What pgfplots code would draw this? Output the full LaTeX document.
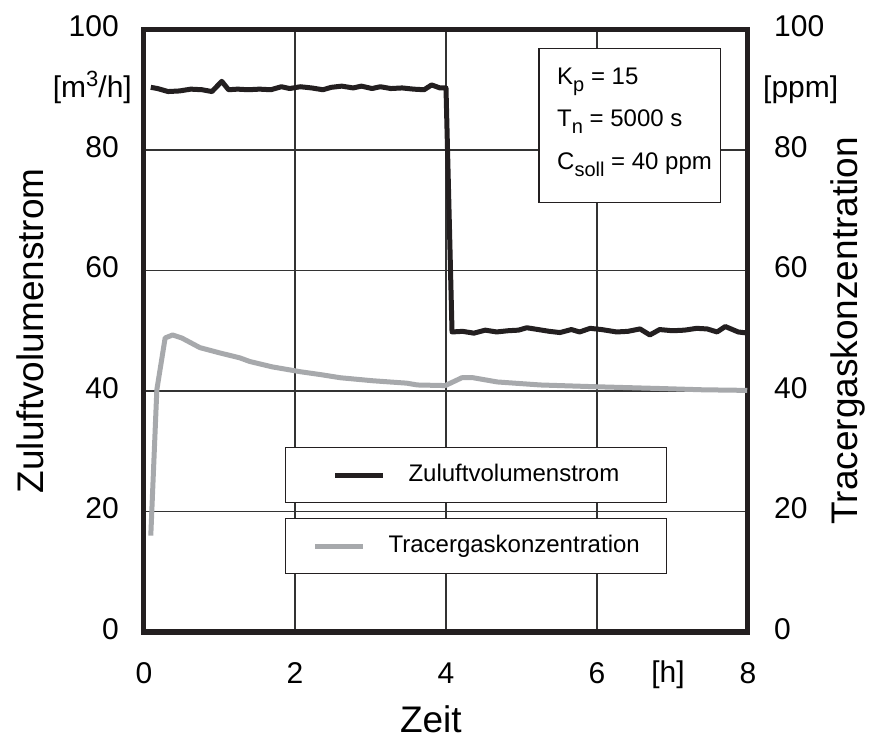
\documentclass[border=0pt]{standalone}
\usepackage{fontspec}
\setmainfont{Liberation Sans}
\usepackage{pgfplots}
\pgfplotsset{compat=1.18}

\definecolor{zul}{HTML}{231F20}
\definecolor{trc}{HTML}{A7A9AC}
\definecolor{gridc}{HTML}{333333}

\newcommand{\sub}[1]{\raisebox{-7pt}{\fontsize{20}{20}\selectfont #1}}
\newcommand{\sups}[1]{\raisebox{11pt}{\fontsize{22}{22}\selectfont #1}}

\pgfplotstableread{
x y
0.09 90.4
0.18 90.2
0.32 89.7
0.47 89.8
0.62 90.1
0.77 90.0
0.90 89.7
1.03 91.4
1.12 90.0
1.24 90.1
1.38 90.0
1.53 90.1
1.68 90.0
1.82 90.5
1.93 90.2
2.07 90.5
2.22 90.3
2.37 90.0
2.48 90.4
2.62 90.6
2.77 90.3
2.88 90.6
3.02 90.2
3.13 90.5
3.27 90.2
3.42 90.3
3.57 90.1
3.71 90.0
3.81 90.8
3.92 90.3
4.00 90.3
4.08 49.8
4.22 49.9
4.37 49.6
4.52 50.1
4.67 49.8
4.82 50.0
4.96 50.1
5.07 50.5
5.22 50.2
5.37 49.9
5.51 49.7
5.66 50.2
5.77 49.8
5.91 50.4
6.06 50.2
6.16 50.0
6.26 49.8
6.41 49.9
6.57 50.3
6.70 49.3
6.83 50.2
7.00 50.0
7.16 50.1
7.32 50.4
7.46 50.3
7.59 49.8
7.70 50.7
7.87 49.8
8.00 49.6
}\zuluft

\pgfplotstableread{
x y
0.09 16.0
0.17 40.2
0.28 48.8
0.38 49.3
0.50 48.8
0.74 47.2
1.01 46.3
1.27 45.5
1.40 44.9
1.70 44.0
2.07 43.2
2.35 42.7
2.60 42.2
3.03 41.7
3.48 41.3
3.62 41.0
3.99 40.9
4.21 42.2
4.36 42.2
4.68 41.5
5.25 41.0
6.00 40.7
6.87 40.4
7.40 40.2
7.99 40.1
}\tracer

\pgfplotsset{
  common/.style={
    scale only axis, width=604pt, height=602.5pt,
    xmin=0, xmax=8, ymin=0, ymax=100,
    axis line style={line width=5pt, color=zul},
    major tick length=0pt,
    tick style={draw=none},
    clip=false,
    /pgf/number format/assume math mode=true,
    tick label style={font=\fontsize{30}{36}\selectfont},
    label style={font=\fontsize{37}{44}\selectfont},
    legend image code/.code={\draw[#1, line width=5pt] (0pt,0pt) -- (48pt,0pt);},
  }
}

\begin{document}
\begin{tikzpicture}
\path[use as bounding box] (-144pt,-110pt) rectangle (727pt,632pt);
\begin{axis}[common,
  xtick={0,2,4,6,8}, ytick={0,20,40,60,80,100},
  grid=major, grid style={gridc, line width=1.3pt},
  xticklabel style={anchor=base, yshift=-51pt},
  yticklabel style={anchor=east, inner sep=0pt, xshift=-25pt, yshift=3pt},
  xlabel={Zeit},
  xlabel style={at={(axis description cs:0.475,-0.1676)}, anchor=base},
  ylabel={Zuluftvolumenstrom},
  ylabel style={at={(axis description cs:-0.1887,0.5)}, anchor=center},
  legend style={at={(axis description cs:0.2334,0.307)}, anchor=north west,
    draw=zul, line width=1.2pt, fill=white, inner xsep=47pt, inner ysep=16.4pt,
    font=\fontsize{24}{28}\selectfont,
    nodes={inner sep=0pt, text height=17pt, text depth=5pt},
    column sep=23pt},
]
\addplot[zul, line width=5pt, line join=round] table[x=x,y=y] {\zuluft};
\addlegendentry{Zuluftvolumenstrom}
\node[anchor=base east, inner sep=0pt, font=\fontsize{30}{36}\selectfont] at (axis description cs:-0.0199,0.8863) {[m\sups{3}/h]};
\node[anchor=base, inner sep=0pt, font=\fontsize{30}{36}\selectfont] at (axis description cs:0.8675,-0.0846) {[h]};
\end{axis}
\begin{axis}[common,
  xtick=\empty, ytick={0,20,40,60,80,100},
  yticklabel pos=right,
  yticklabel style={anchor=west, inner sep=0pt, xshift=26pt, yshift=3pt},
  ylabel={Tracergaskonzentration},
  ylabel style={at={(axis description cs:1.1656,0.5)}, anchor=center},
  legend style={at={(axis description cs:0.2334,0.189)}, anchor=north west,
    draw=zul, line width=1.2pt, fill=white, inner xsep=27pt, inner ysep=16.4pt,
    font=\fontsize{24}{28}\selectfont,
    nodes={inner sep=0pt, text height=17pt, text depth=5pt},
    column sep=23pt},
]
\addplot[trc, line width=5pt, line join=round] table[x=x,y=y] {\tracer};
\addlegendentry{Tracergaskonzentration}
\node[anchor=base west, inner sep=0pt, font=\fontsize{30}{36}\selectfont] at (axis description cs:1.0248,0.8863) {[ppm]};
\draw[zul, line width=1.2pt, fill=white] (axis description cs:0.654,0.969) rectangle (axis description cs:0.955,0.713);
\begin{scope}[every node/.style={anchor=base west, inner sep=0pt, font=\fontsize{24}{28}\selectfont}]
\node at (axis description cs:0.6838,0.9079) {K\sub{p} = 15};
\node at (axis description cs:0.6838,0.8398) {T\sub{n} = 5000 s};
\node at (axis description cs:0.6838,0.7668) {C\sub{soll} = 40 ppm};
\end{scope}
\end{axis}
\end{tikzpicture}
\end{document}
